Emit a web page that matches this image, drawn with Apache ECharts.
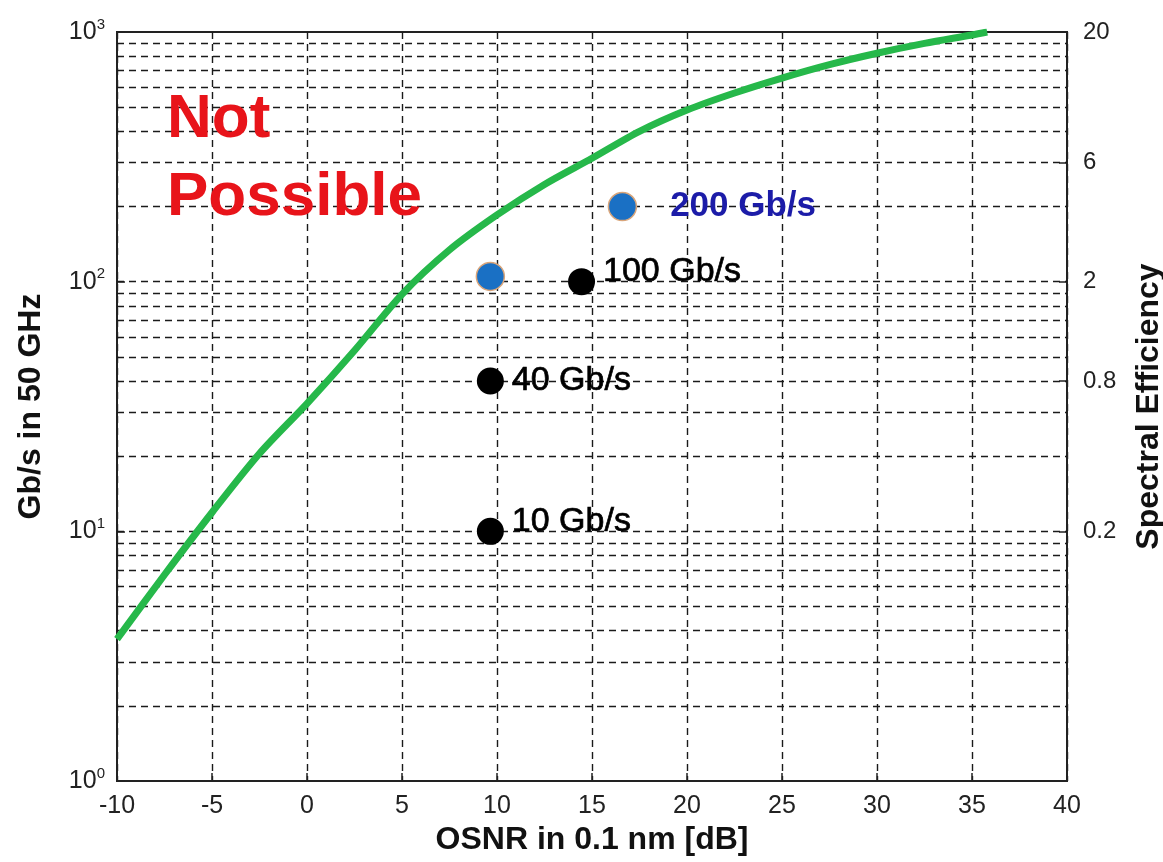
<!DOCTYPE html>
<html>
<head>
<meta charset="utf-8">
<script src="https://cdn.jsdelivr.net/npm/echarts@6/dist/echarts.min.js"></script>
<style>
html,body{margin:0;padding:0;background:#fff;}
#c{width:1163px;height:862px;}
</style>
</head>
<body>
<div id="c"></div>
<script>
// ---- data ----
const curveOsnr = [-10, -7.5, -5, -2.5, 0, 2.5, 5, 7.5, 10, 12.5, 15, 17.5, 20, 22.5, 25, 27.5, 30, 32.5, 35, 35.8];
const curveGbps = [3.7, 6.7, 11.9, 20.5, 32.5, 53, 89, 134, 185, 245, 312, 400, 487, 570, 654, 740, 822, 900, 973, 1000];

const blackOsnr = [14.45, 9.65, 9.65];
const blackGbps = [100, 40, 10];
const blackLabels = ['100 Gb/s', '40 Gb/s', '10 Gb/s'];

const blueOsnr = [9.65, 16.6];
const blueGbps = [105, 200];
const blueLabels = ['', '200 Gb/s'];

const xTicks = [-10, -5, 0, 5, 10, 15, 20, 25, 30, 35, 40];
const leftTicks = [1, 10, 100, 1000];
const rightTickGbps = [10, 40, 100, 300, 1000];
const rightTickLabels = ['0.2', '0.8', '2', '6', '20'];

// ---- build ----
const minorGrid = [];
[1, 10, 100].forEach(k => { for (let m = 1; m <= 9; m++) { if (!(m === 1 && k === 1)) minorGrid.push(m * k); } });

const font = 'Liberation Sans, Arial, sans-serif';
const gridDash = { type: [7, 5], color: '#1a1a1a', width: 1.4 };

const chart = echarts.init(document.getElementById('c'), null, { renderer: 'canvas' });
chart.setOption({
  animation: false,
  backgroundColor: '#fff',
  grid: { left: 117, right: 96, top: 32, bottom: 81, show: true, borderColor: '#222', borderWidth: 2,
    backgroundColor: 'transparent', containLabel: false, outerBoundsMode: 'none' },
  graphic: [{
    type: 'text', left: 167, top: 81, z: 10,
    style: { text: 'Not\nPossible', font: 'bold 62px ' + font, fill: '#e8141a', lineHeight: 78 }
  }],
  xAxis: {
    type: 'value', min: -10, max: 40, interval: 5,
    axisLine: { show: true, onZero: false, lineStyle: { color: '#222', width: 2 } },
    axisTick: { show: true, inside: true, length: 8, lineStyle: { color: '#222', width: 1.5 } },
    axisLabel: { fontFamily: font, fontSize: 25, color: '#222', margin: 13,
      formatter: v => xTicks.indexOf(v) >= 0 ? String(v) : '' },
    splitLine: { show: true, lineStyle: gridDash },
    name: 'OSNR in 0.1 nm [dB]', nameLocation: 'middle', nameGap: 40,
    nameTextStyle: { fontFamily: font, fontSize: 32, fontWeight: 'bold', color: '#111' }
  },
  yAxis: [{
    type: 'log', logBase: 10, min: 1, max: 1000,
    axisLine: { show: true, onZero: false, lineStyle: { color: '#222', width: 2 } },
    axisTick: { show: true, inside: true, length: 8, lineStyle: { color: '#222', width: 1.5 } },
    axisLabel: {
      margin: 12,
      formatter: v => leftTicks.indexOf(v) >= 0 ? '{b|10}{s|' + Math.round(Math.log10(v)) + '}' : '',
      rich: {
        b: { fontFamily: font, fontSize: 25, color: '#222' },
        s: { fontFamily: font, fontSize: 15, color: '#222', padding: [0, 0, 15, 0] }
      }
    },
    splitLine: { show: false },
    name: 'Gb/s in 50 GHz', nameLocation: 'middle', nameGap: 70,
    nameTextStyle: { fontFamily: font, fontSize: 32, fontWeight: 'bold', color: '#111' }
  }, {
    type: 'value', min: 0, max: 3, position: 'right',
    axisLine: { show: true, onZero: false, lineStyle: { color: '#222', width: 2 } },
    axisTick: { show: true, inside: true, length: 8, customValues: rightTickGbps.map(v => Math.log10(v)), lineStyle: { color: '#222', width: 1.5 } },
    axisLabel: {
      fontFamily: font, fontSize: 24, color: '#222', margin: 16,
      customValues: rightTickGbps.map(v => Math.log10(v)),
      formatter: v => {
        let best = 0, bd = 1e9;
        rightTickGbps.forEach((g, i) => { const d = Math.abs(Math.log10(g) - v); if (d < bd) { bd = d; best = i; } });
        return rightTickLabels[best];
      }
    },
    splitLine: { show: false },
    name: 'Spectral Efficiency', nameLocation: 'middle', nameGap: 66,
    nameTextStyle: { fontFamily: font, fontSize: 32, fontWeight: 'bold', color: '#111' }
  }],
  series: [{
    type: 'line', name: 'limit', yAxisIndex: 0,
    data: curveOsnr.map((x, i) => [x, curveGbps[i]]),
    smooth: 0.3, showSymbol: false, symbol: 'none',
    lineStyle: { color: '#26b84a', width: 7 }, z: 5,
    markLine: {
      silent: true, symbol: 'none', label: { show: false },
      lineStyle: gridDash, z: 1,
      data: minorGrid.map(v => ({ yAxis: v }))
    }
  }, {
    type: 'scatter', name: 'black', yAxisIndex: 0,
    data: blackOsnr.map((x, i) => [x, blackGbps[i]]),
    symbolSize: 27, itemStyle: { color: '#000', opacity: 1 }, z: 6,
    label: {
      show: true, position: 'right', distance: 8,
      formatter: p => blackLabels[p.dataIndex],
      fontFamily: font, fontSize: 34, color: '#000',
      textBorderColor: '#000', textBorderWidth: 0.7
    },
    labelLayout: p => ({ dy: [-10, 0, -10][p.dataIndex] })
  }, {
    type: 'scatter', name: 'blue', yAxisIndex: 0,
    data: blueOsnr.map((x, i) => [x, blueGbps[i]]),
    symbolSize: 28, itemStyle: { color: '#1a70c4', opacity: 1, borderColor: '#d9a57a', borderWidth: 1.5 }, z: 6,
    label: {
      show: true, position: 'right', distance: 33,
      formatter: p => blueLabels[p.dataIndex],
      fontFamily: font, fontSize: 35, fontWeight: 'bold', color: '#1c1ca8'
    }
  }]
});
</script>
</body>
</html>
